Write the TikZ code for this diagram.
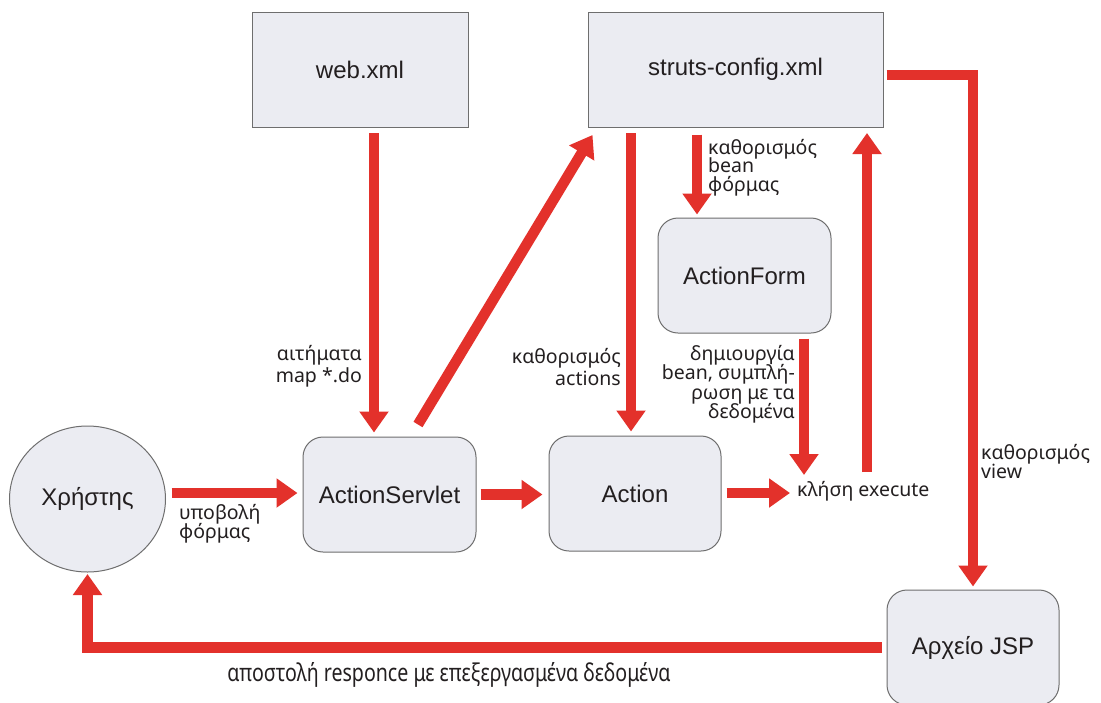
\documentclass[tikz,border=0pt]{standalone}
\usepackage{fontspec}
\setmainfont{Liberation Sans}
\newfontfamily\labfont{Noto Sans}
\newfontfamily\narrowfont[FakeStretch=0.8]{Noto Sans}
\usetikzlibrary{arrows.meta,shapes.geometric}

\definecolor{flowred}{RGB}{227,49,43}
\definecolor{boxfill}{RGB}{235,236,242}
\definecolor{boxline}{RGB}{110,110,110}
\definecolor{ink}{RGB}{35,31,32}

% stacked label lines with a fixed baseline distance; baseline of the stack = first line
\newcommand\Rstack[2]{\vtop{\baselineskip=#1\lineskiplimit=-\maxdimen\halign{\hfil##\cr#2\crcr}}}
\newcommand\Lstack[2]{\vtop{\baselineskip=#1\lineskiplimit=-\maxdimen\halign{##\hfil\cr#2\crcr}}}

\tikzset{
  box/.style={draw=boxline, line width=1pt, fill=boxfill, inner sep=0pt, text=ink,
    minimum height=115pt, font=\fontsize{24}{28}\selectfont},
  roundbox/.style={box, rounded corners=20pt},
  flow/.style={draw=flowred, line width=10.5pt, -{Triangle[length=21pt,width=28pt]}},
  lab/.style={inner sep=0pt, text=ink, font=\labfont\fontsize{19.5}{21}\selectfont},
}

\begin{document}
\begin{tikzpicture}[x=1pt,y=-1pt]
\path[use as bounding box, fill=white] (0,0) rectangle (1101,702);

% components
\node[box, minimum width=216pt] (web) at (360,69.5) {web.xml};
\node[box, minimum width=295pt] (struts) at (735.5,69.5) {struts-config.xml};
\node[roundbox, minimum width=173pt] (form) at (744.5,275.5) {ActionForm};
\node[roundbox, minimum width=173pt] (servlet) at (389.5,494.5) {ActionServlet};
\node[roundbox, minimum width=172pt] (action) at (635,493.5) {Action};
\node[roundbox, minimum width=172pt] (jsp) at (973,647.5) {Αρχείο JSP};
\node[box, ellipse, minimum width=156pt, minimum height=146pt] (user) at (87.5,499) {Χρήστης};

% the execute call
\node[lab, anchor=base west] (call) at (797,496) {κλήση execute};
\coordinate (callin) at (804,475);
\coordinate (callout) at (867,472);
\coordinate (callside) at (790,493);

% flows
\draw[flow, shorten <=5.5pt, shorten >=4pt] ([xshift=14pt]web.south) -- ([xshift=14pt]web.south |- servlet.north);
\draw[flow] ([xshift=28.5pt,yshift=12pt]servlet.north) -- ([xshift=5pt,yshift=-7.5pt]struts.south west);
\draw[flow, shorten <=5.5pt, shorten >=4pt] ([xshift=-4pt]action.north |- struts.south) -- ([xshift=-4pt]action.north);
\draw[flow, shorten <=7pt, shorten >=3pt] ([xshift=-47.5pt]form.north |- struts.south) -- ([xshift=-47.5pt]form.north);
\draw[flow, shorten <=5pt] (form.south -| callin) -- (callin);
\draw[flow, shorten >=5.5pt] (callout) -- (callout |- struts.south);
\draw[flow, shorten <=5pt] (action.east |- callside) -- (callside);
\draw[flow, shorten <=4pt, shorten >=6pt] (servlet.east) -- (servlet.east -| action.west);
\draw[flow, shorten <=5.5pt, shorten >=5pt] ([yshift=6pt]user.east) -- ([yshift=6pt]user.east -| servlet.west);
\draw[flow, shorten <=3pt, shorten >=3pt] ([yshift=-5.5pt]struts.east) -| (jsp.north);
\draw[flow, shorten <=5pt, shorten >=1.5pt] (jsp.west) -| (user.south);

% flow labels
\node[lab, anchor=base east] (reqlab) at (362,360) {\Rstack{22pt}{αιτήματα\cr map *.do}};
\node[lab, anchor=base east] (actlab) at (621,363) {\Rstack{22pt}{καθορισμός\cr actions}};
\node[lab, anchor=base west] (beanlab) at (708,154) {\Lstack{18.5pt}{καθορισμός\cr bean\cr φόρμας}};
\node[lab, anchor=base east] (fillab) at (795,360) {\Rstack{19.5pt}{δημιουργία\cr bean, συμπλή-\cr ρωση με τα\cr δεδομένα}};
\node[lab, anchor=base west] (sublab) at (179,519) {\Lstack{19.5pt}{υποβολή\cr φόρμας}};
\node[lab, anchor=base west] (viewlab) at (981,459) {\Lstack{19pt}{καθορισμός\cr view}};
\node[lab, font=\narrowfont\fontsize{24.5}{27}\selectfont, anchor=base] (resplab) at (449,681) {αποστολή responce με επεξεργασμένα δεδομένα};
\end{tikzpicture}
\end{document}
